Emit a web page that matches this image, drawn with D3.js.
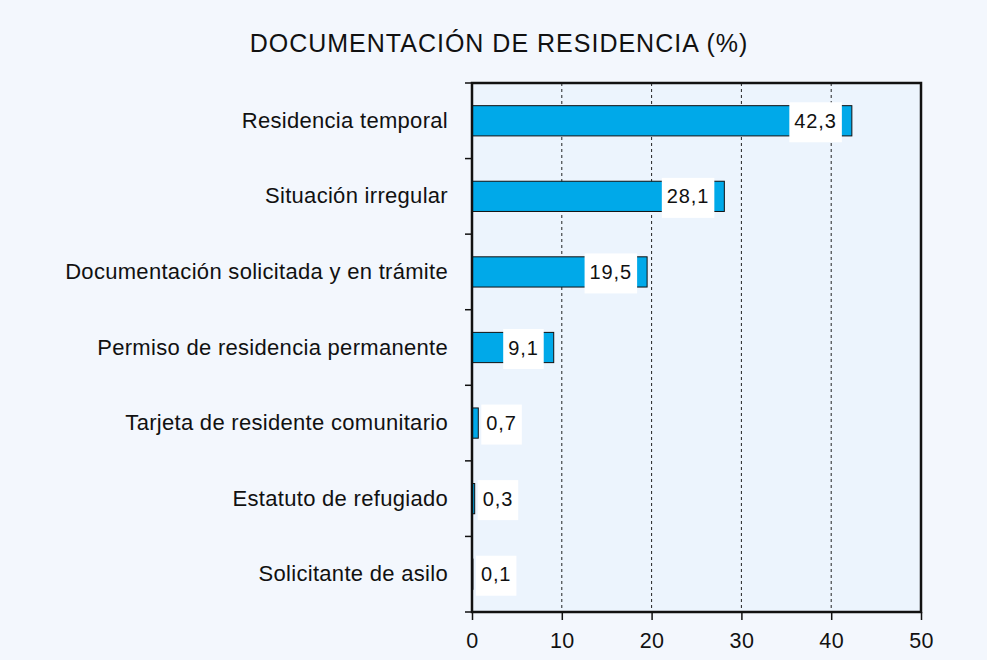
<!DOCTYPE html>
<html><head><meta charset="utf-8">
<script src="https://cdn.jsdelivr.net/npm/d3@7"></script>
<style>body{margin:0;background:#f3f7fd;}svg{display:block;font-family:"Liberation Sans",Arial,Helvetica,sans-serif;}</style>
</head><body>
<svg id="c" width="987" height="660"></svg>
<script>
const categories = ["Residencia temporal","Situación irregular","Documentación solicitada y en trámite","Permiso de residencia permanente","Tarjeta de residente comunitario","Estatuto de refugiado","Solicitante de asilo"];
const values = [42.3, 28.1, 19.5, 9.1, 0.7, 0.3, 0.1];
const valueLabels = ["42,3","28,1","19,5","9,1","0,7","0,3","0,1"];
const xTicks = [0,10,20,30,40,50];
const title = "DOCUMENTACIÓN DE RESIDENCIA (%)";

const svg = d3.select("#c");
svg.append("rect").attr("width",987).attr("height",660).attr("fill","#f3f7fd");
const m = {l:472, r:921, t:83, b:612};
const x = d3.scaleLinear().domain([0,50]).range([m.l,m.r]);
const y = d3.scaleBand().domain(categories).range([m.t,m.b]).paddingInner(0.6).paddingOuter(0.3);

svg.append("rect").attr("x",m.l).attr("y",m.t).attr("width",m.r-m.l).attr("height",m.b-m.t).attr("fill","#ecf4fd");

// grid
svg.append("g").selectAll("line").data(xTicks.filter(d=>d>0&&d<50)).join("line")
  .attr("x1",d=>x(d)).attr("x2",d=>x(d)).attr("y1",m.t).attr("y2",m.b)
  .attr("stroke","#222").attr("stroke-width",1).attr("stroke-dasharray","3,3");

// bars
svg.append("g").selectAll("rect").data(values).join("rect")
  .attr("x",x(0)).attr("y",(d,i)=>y(categories[i]))
  .attr("width",d=>x(d)-x(0)).attr("height",y.bandwidth())
  .attr("fill","#00a9e9").attr("stroke","#111").attr("stroke-width",1);

// value labels
const lg = svg.append("g");
values.forEach((v,i)=>{
  const cy = y(categories[i]) + y.bandwidth()/2;
  const t = lg.append("text").text(valueLabels[i]).attr("font-size",20).attr("letter-spacing",0.9).attr("fill","#111")
    .attr("y",cy+7);
  const w = t.node().getComputedTextLength();
  const bw = w + 10;
  let bx;
  if (x(v) - x(0) > bw + 20) bx = x(v) - 10 - bw; else bx = x(v) + 3;
  lg.insert("rect","text").attr("x",bx).attr("y",cy-18.5).attr("width",bw).attr("height",40).attr("fill","#fff");
  t.attr("x",bx+5);
});
lg.selectAll("text").raise();

// frame
svg.append("rect").attr("x",m.l).attr("y",m.t).attr("width",m.r-m.l).attr("height",m.b-m.t)
  .attr("fill","none").attr("stroke","#111").attr("stroke-width",2.5);

// x axis
const xa = svg.append("g").attr("transform",`translate(0,${m.b})`)
  .call(d3.axisBottom(x).tickValues(xTicks).tickSize(8).tickPadding(13).tickFormat(d=>d));
xa.select(".domain").remove();
xa.selectAll("line").attr("stroke","#111").attr("stroke-width",1.5);
xa.selectAll("text").attr("font-size",21.5).attr("letter-spacing",0.4).attr("fill","#111").attr("font-family",null);

// y axis ticks at band boundaries
const bounds = categories.map(c=>y(c)-y.step()*y.paddingInner()/2).concat([m.b]);
bounds[0] = m.t;
svg.append("g").selectAll("line").data(bounds).join("line")
  .attr("x1",m.l-7).attr("x2",m.l).attr("y1",d=>d).attr("y2",d=>d).attr("stroke","#111").attr("stroke-width",1.5);

// category labels
svg.append("g").selectAll("text").data(categories).join("text")
  .attr("x",448).attr("y",d=>y(d)+y.bandwidth()/2+7)
  .attr("text-anchor","end").attr("font-size",22).attr("letter-spacing",0.3).attr("fill","#111").text(d=>d);

svg.append("text").attr("x",499).attr("y",52).attr("text-anchor","middle")
  .attr("font-size",25).attr("letter-spacing",1).attr("fill","#111").text(title);
</script>
</body></html>
